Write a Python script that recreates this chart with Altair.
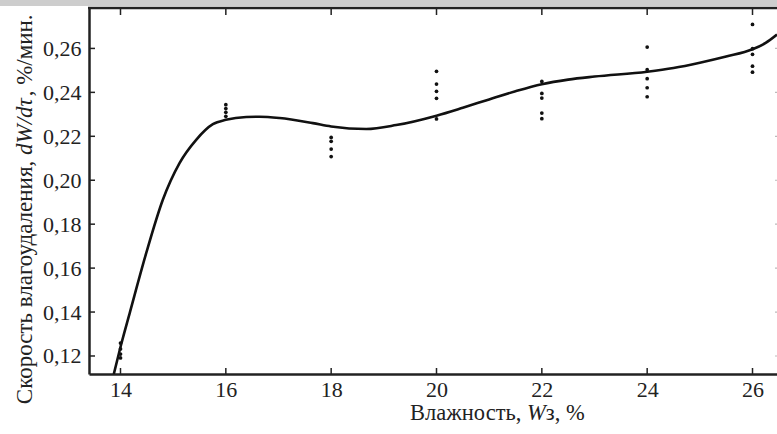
import altair as alt
import pandas as pd

# ---- data ----
x_ticks = [14, 16, 18, 20, 22, 24, 26]
y_ticks = [0.12, 0.14, 0.16, 0.18, 0.20, 0.22, 0.24, 0.26]

curve_x = [13.873, 14.0, 14.18, 14.488, 14.804, 15.121, 15.437, 15.754, 16.0, 16.388,
           16.64, 17.02, 17.653, 18.0, 18.665, 19.235, 20.0, 20.5, 21.0, 21.5,
           22.0, 22.5, 23.0, 24.0, 24.5, 25.0, 25.5, 26.0, 26.25, 26.465]
curve_y = [0.1118, 0.1241, 0.1400, 0.1668, 0.1911, 0.2078, 0.2184, 0.2255, 0.2275, 0.2288,
           0.2289, 0.2283, 0.2260, 0.2245, 0.2233, 0.2251, 0.2294, 0.2330, 0.2368, 0.2405,
           0.2437, 0.2458, 0.2472, 0.2494, 0.2511, 0.2535, 0.2563, 0.2596, 0.2625, 0.2663]

pts_14 = [0.1259, 0.1232, 0.1209, 0.1191]
pts_16 = [0.2344, 0.2326, 0.2309, 0.2291]
pts_18 = [0.2195, 0.2177, 0.2142, 0.2108]
pts_20 = [0.2496, 0.2438, 0.2405, 0.2373, 0.2279]
pts_22 = [0.2450, 0.2395, 0.2374, 0.2306, 0.2280]
pts_24 = [0.2606, 0.2503, 0.2462, 0.2421, 0.2380]
pts_26 = [0.2709, 0.2599, 0.2573, 0.2519, 0.2492]

# axis titles, split where the reference switches to italic
x_title_parts = ["Влажность,", "W", "з, %"]
y_title_parts = ["Скорость влагоудаления,", "dW/dτ", ", %/мин."]

# ---- tables ----
curve_df = pd.DataFrame({"x": curve_x, "y": curve_y})
pts_rows = []
for xv, arr in zip(x_ticks, [pts_14, pts_16, pts_18, pts_20, pts_22, pts_24, pts_26]):
    for v in arr:
        pts_rows.append({"x": xv, "y": v})
pts_df = pd.DataFrame(pts_rows)
xt_df = pd.DataFrame({"x": x_ticks})
yt_df = pd.DataFrame({"y": y_ticks})
one_df = pd.DataFrame({"a": [0]})

W, H = 688, 366
FONT = "Liberation Serif, Times New Roman, serif"
INK = "#222222"
XFS = 22.5   # x title font size
YFS = 23     # y title font size

xs = alt.Scale(domain=[13.402, 26.465], nice=False, zero=False)
ys = alt.Scale(domain=[0.1118, 0.2784], nice=False, zero=False)

x_axis = alt.Axis(values=x_ticks, tickSize=0, ticks=False, domain=True, domainColor=INK,
                  domainWidth=2.5, labelFont=FONT, labelFontSize=22, labelColor=INK,
                  labelPadding=5, grid=False, title="")
y_axis = alt.Axis(values=y_ticks, tickSize=0, ticks=False, domain=True, domainColor=INK,
                  domainWidth=2.5, labelFont=FONT, labelFontSize=22, labelColor=INK,
                  labelPadding=8,
                  labelExpr="replace(format(datum.value, '.2f'), '.', ',')",
                  grid=False, title="")

line = alt.Chart(curve_df).mark_line(color="#111111", strokeWidth=2.6,
                                     interpolate="monotone", clip=True).encode(
    x=alt.X("x:Q", scale=xs, axis=x_axis),
    y=alt.Y("y:Q", scale=ys, axis=y_axis))

band = alt.Chart(one_df).mark_rect(color="#cdcdcd").encode(
    x=alt.value(-89), x2=alt.value(W), y=alt.value(-8), y2=alt.value(-2))

dots = alt.Chart(pts_df).mark_circle(color="#111111", size=14, opacity=1).encode(
    x=alt.X("x:Q"), y=alt.Y("y:Q"))

bottom_ticks = alt.Chart(xt_df).mark_rule(color=INK, strokeWidth=1.5).encode(
    x=alt.X("x:Q"), y=alt.value(H), y2=alt.value(H - 6))
top_ticks = alt.Chart(xt_df).mark_rule(color=INK, strokeWidth=1.5).encode(
    x=alt.X("x:Q"), y=alt.value(0), y2=alt.value(7))
left_ticks = alt.Chart(yt_df).mark_rule(color=INK, strokeWidth=1.5).encode(
    y=alt.Y("y:Q"), x=alt.value(0), x2=alt.value(6))
right_ticks = alt.Chart(yt_df).mark_rule(color="#bbbbbb", strokeWidth=1.2).encode(
    y=alt.Y("y:Q"), x=alt.value(W - 2), x2=alt.value(W))
top_frame = alt.Chart(one_df).mark_rule(color=INK, strokeWidth=2.5).encode(
    x=alt.value(-1), x2=alt.value(W), y=alt.value(0))


def frag(txt, x, y, align, size, italic=False, angle=0):
    kw = dict(text=txt, font=FONT, fontSize=size, color=INK, align=align,
              baseline="alphabetic")
    if italic:
        kw["fontStyle"] = "italic"
    if angle:
        kw["angle"] = angle
    return alt.Chart(one_df).mark_text(**kw).encode(x=alt.value(x), y=alt.value(y))


# x title pieces (baseline 412 in plot coordinates)
XA = 438
xt1 = frag(x_title_parts[0], XA - 0.25 * XFS, 412, "right", XFS)
xt2 = frag(x_title_parts[1], XA, 412, "left", XFS, italic=True)
xt3 = frag(x_title_parts[2], XA + 0.833 * XFS, 412, "left", XFS)

# y title pieces (rotated, reading upwards)
YA = 147
YX = -57
yt1 = frag(y_title_parts[0], YX, YA + 0.25 * YFS, "right", YFS, angle=270)
yt2 = frag(y_title_parts[1], YX, YA, "left", YFS, italic=True, angle=270)
yt3 = frag(y_title_parts[2], YX, YA - 2.55 * YFS, "left", YFS, angle=270)

chart = alt.layer(line, band, dots, bottom_ticks, top_ticks, left_ticks,
                  right_ticks, top_frame, xt1, xt2, xt3, yt1, yt2, yt3).properties(
    width=W, height=H,
    autosize=alt.AutoSizeParams(type="none"),
    padding={"left": 89, "top": 8, "right": 0, "bottom": 60},
    background="white",
).configure_view(stroke=None)

chart.save("out.html", embed_options={"renderer": "svg", "actions": False})
